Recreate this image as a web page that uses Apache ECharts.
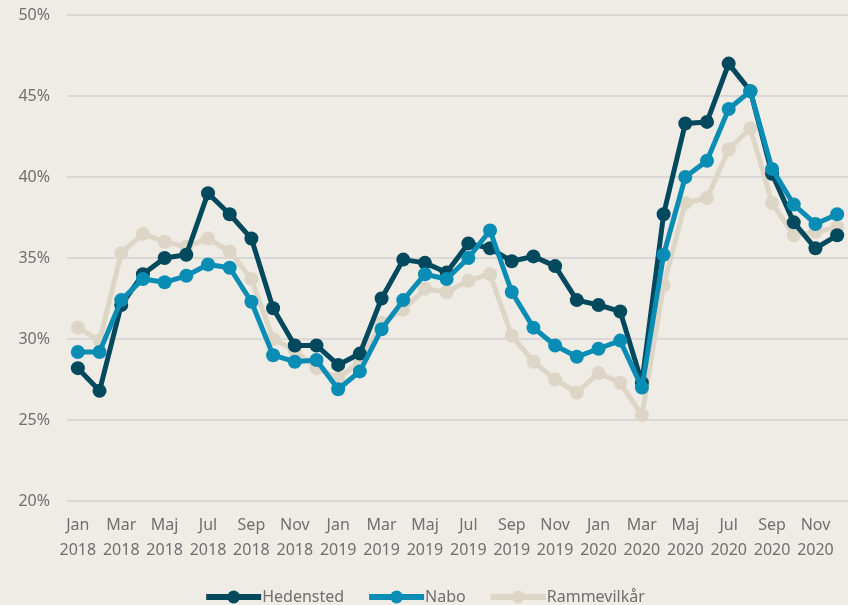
<!DOCTYPE html>
<html>
<head>
<meta charset="utf-8">
<script src="https://cdn.jsdelivr.net/npm/echarts@6/dist/echarts.min.js"></script>
<style>
  html, body { margin: 0; padding: 0; background: #efece6; }
  #chart { width: 848px; height: 605px; }
</style>
</head>
<body>
<div id="chart"></div>
<script>
const months = ["Jan", "Feb", "Mar", "Apr", "Maj", "Jun", "Jul", "Aug", "Sep", "Okt", "Nov", "Dec"];
const years = ["2018", "2019", "2020"];

const hedensted = [
  28.2, 26.8, 32.1, 34.0, 35.0, 35.2, 39.0, 37.7, 36.2, 31.9, 29.6, 29.6,
  28.4, 29.1, 32.5, 34.9, 34.7, 34.1, 35.9, 35.6, 34.8, 35.1, 34.5, 32.4,
  32.1, 31.7, 27.3, 37.7, 43.3, 43.4, 47.0, 45.3, 40.2, 37.2, 35.6, 36.4
];
const nabo = [
  29.2, 29.2, 32.4, 33.7, 33.5, 33.9, 34.6, 34.4, 32.3, 29.0, 28.6, 28.7,
  26.9, 28.0, 30.6, 32.4, 34.0, 33.7, 35.0, 36.7, 32.9, 30.7, 29.6, 28.9,
  29.4, 29.9, 27.0, 35.2, 40.0, 41.0, 44.2, 45.3, 40.5, 38.3, 37.1, 37.7
];
const rammevilkaar = [
  30.7, 29.9, 35.3, 36.5, 36.0, 35.7, 36.2, 35.4, 33.7, 30.0, 29.3, 28.2,
  27.6, 28.6, 31.0, 31.8, 33.1, 32.9, 33.6, 34.0, 30.2, 28.6, 27.5, 26.7,
  27.9, 27.3, 25.3, 33.3, 38.4, 38.7, 41.7, 43.0, 38.4, 36.4, 36.6, 36.9
];

const categories = [];
years.forEach(y => months.forEach(m => categories.push(m + "\n" + y)));

const font = "Noto Sans";
const gray = "#6f6f6f";

function line(name, data, color, z) {
  return {
    name: name,
    type: "line",
    data: data,
    z: z,
    symbol: "circle",
    symbolSize: 14,
    lineStyle: { width: 5, color: color },
    itemStyle: { color: color },
    emphasis: { disabled: true }
  };
}

const chart = echarts.init(document.getElementById("chart"));
chart.setOption({
  backgroundColor: "#efece6",
  animation: false,
  textStyle: { fontFamily: font },
  grid: { left: 67, right: 0, top: 15, bottom: 104, containLabel: false },
  legend: {
    bottom: -5,
    left: "center",
    data: ["Hedensted", "Nabo", "Rammevilkår"],
    itemWidth: 55,
    itemHeight: 16,
    itemGap: 22,
    selectedMode: false,
    lineStyle: { width: 6 },
    textStyle: { color: gray, fontSize: 16, fontFamily: font, padding: [0, 0, 0, -4] }
  },
  xAxis: {
    type: "category",
    data: categories,
    boundaryGap: true,
    axisLine: { show: false },
    axisTick: { show: false },
    axisLabel: {
      interval: 1,
      color: gray,
      fontSize: 16,
      lineHeight: 25,
      margin: 12,
      fontFamily: font
    }
  },
  yAxis: {
    type: "value",
    min: 20,
    max: 50,
    interval: 5,
    axisLine: { show: false },
    axisTick: { show: false },
    splitLine: { lineStyle: { color: "#d9d8d6", width: 2 } },
    axisLabel: {
      color: gray,
      fontSize: 16,
      margin: 17,
      fontFamily: font,
      formatter: v => v + "%"
    }
  },
  series: [
    line("Rammevilkår", rammevilkaar, "#ddd5c5", 2),
    line("Hedensted", hedensted, "#03495e", 3),
    line("Nabo", nabo, "#0a8db5", 4)
  ]
});
</script>
</body>
</html>
